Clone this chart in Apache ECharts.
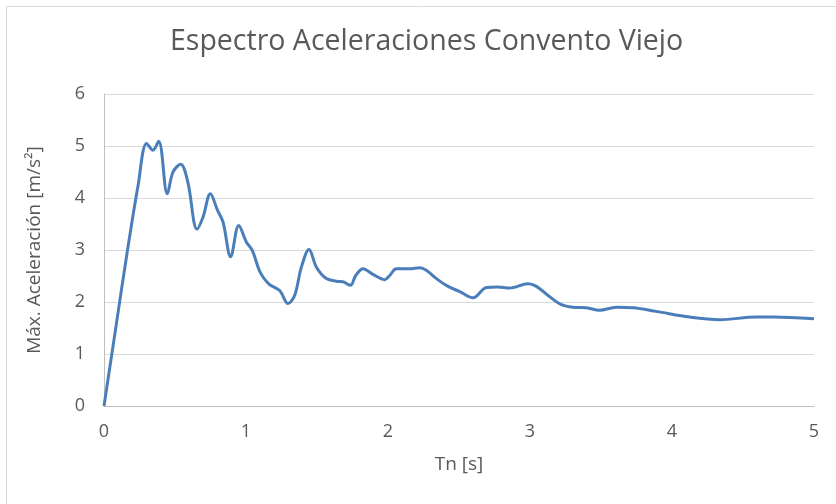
<!DOCTYPE html>
<html><head><meta charset="utf-8">
<script src="https://cdn.jsdelivr.net/npm/echarts@6/dist/echarts.min.js"></script>
<style>html,body{margin:0;padding:0;background:#fff}#c{width:836px;height:504px}</style>
</head><body><div id="c"></div>
<script>
const periods = [0, 0.08, 0.16, 0.24, 0.30, 0.345, 0.385, 0.446, 0.486, 0.54, 0.59, 0.655, 0.697, 0.749, 0.80, 0.838, 0.892, 0.949, 1.003, 1.045, 1.10, 1.16, 1.237, 1.296, 1.343, 1.39, 1.444, 1.496, 1.566, 1.637, 1.683, 1.735, 1.773, 1.824, 1.894, 1.977, 2.012, 2.059, 2.153, 2.223, 2.27, 2.341, 2.423, 2.505, 2.599, 2.693, 2.775, 2.857, 2.986, 3.045, 3.139, 3.221, 3.303, 3.397, 3.49, 3.608, 3.725, 3.89, 4.125, 4.336, 4.594, 4.711, 5.0];
const accel = [0, 1.45, 2.90, 4.24, 5.05, 4.92, 5.09, 4.08, 4.5, 4.65, 4.31, 3.40, 3.63, 4.08, 3.76, 3.54, 2.87, 3.47, 3.15, 2.99, 2.57, 2.35, 2.22, 1.97, 2.13, 2.67, 3.01, 2.67, 2.45, 2.40, 2.39, 2.32, 2.51, 2.64, 2.53, 2.43, 2.51, 2.64, 2.64, 2.66, 2.61, 2.45, 2.30, 2.20, 2.08, 2.28, 2.29, 2.27, 2.35, 2.30, 2.10, 1.95, 1.90, 1.89, 1.84, 1.90, 1.89, 1.82, 1.71, 1.66, 1.71, 1.71, 1.68];
const xTicks = [0, 1, 2, 3, 4, 5];
const yTicks = [0, 1, 2, 3, 4, 5, 6];
const titleText = 'Espectro Aceleraciones Convento Viejo';
const xName = 'Tn [s]';
const yName = 'Máx. Aceleración [m/s²]';

const chart = echarts.init(document.getElementById('c'), null, {renderer: 'canvas'});
const font = '"Open Sans", "Noto Sans", sans-serif';
chart.setOption({
  animation: false,
  graphic: [{type: 'rect', shape: {x: 6.5, y: 6.5, width: 900, height: 600}, style: {fill: 'none', stroke: '#d9d9d9', lineWidth: 1}, z: -10}],
  title: {text: titleText, left: 165, top: 22, textStyle: {fontFamily: font, fontSize: 28.5, fontWeight: 'normal', color: '#595959'}},
  grid: {left: 104, right: 22, top: 94, bottom: 98},
  xAxis: {type: 'value', min: xTicks[0], max: xTicks[xTicks.length-1], interval: 1,
    name: xName, nameLocation: 'middle', nameGap: 49,
    nameTextStyle: {fontFamily: font, fontSize: 19, color: '#595959'},
    axisLine: {show: true, lineStyle: {color: '#bfbfbf', width: 1}},
    axisTick: {show: false}, splitLine: {show: false},
    axisLabel: {fontFamily: font, fontSize: 18, color: '#595959', margin: 17}},
  yAxis: {type: 'value', min: yTicks[0], max: yTicks[yTicks.length-1], interval: 1,
    name: yName, nameLocation: 'middle', nameGap: 60, nameRotate: 90,
    nameTextStyle: {fontFamily: font, fontSize: 19, color: '#595959'},
    axisLine: {show: true, lineStyle: {color: '#bfbfbf', width: 1}},
    axisTick: {show: false},
    splitLine: {show: true, lineStyle: {color: '#d9d9d9', width: 1}},
    axisLabel: {fontFamily: font, fontSize: 18, color: '#595959', margin: 19}},
  series: [{type: 'line', data: periods.map((t, i) => [t, accel[i]]), smooth: 0.35, showSymbol: false,
    lineStyle: {color: '#4a7ebb', width: 3}}]
});
</script></body></html>
